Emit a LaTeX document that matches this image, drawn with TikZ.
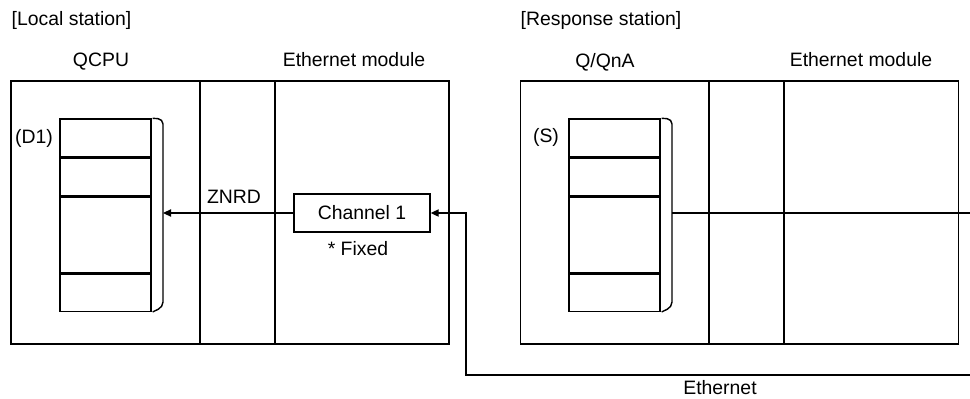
\documentclass[tikz,border=0pt]{standalone}
\usepackage{fontspec}
\setmainfont{Liberation Sans}
\usetikzlibrary{arrows.meta, positioning, calc}

\begin{document}
\begin{tikzpicture}[
    x=0.5pt, y=-0.5pt,
    line width=0.7pt,
    lbl/.style={inner sep=0pt, font=\fontsize{9.7}{11.6}\selectfont},
    frame/.style={
      rectangle, draw, minimum width=219pt, minimum height=131.5pt,
      inner sep=0pt
    },
    cell/.style={
      rectangle, draw, minimum width=45.5pt, inner sep=0pt
    },
    chbox/.style={
      rectangle, draw, minimum width=68pt, minimum height=19pt,
      inner sep=0pt, font=\fontsize{9.7}{11.6}\selectfont
    },
    arr/.style={-{Triangle[length=4pt, width=3.6pt]}}
  ]
    \useasboundingbox (0,0) rectangle (970,398);

    % local station
    \node[lbl, anchor=west] (loctitle) at (11,20) {[Local station]};
    \node[frame] (local) at (230,212.5) {};
    \node[lbl] (qcpu) at (101,62) {QCPU};
    \node[lbl] (emodl) at (354,60) {Ethernet module};
    \draw (200,81) -- (200,344);
    \draw (275,81) -- (275,344);

    \node[cell, minimum height=19pt] (d1a) at (105.5,138) {};
    \node[cell, minimum height=18.5pt, below=0pt of d1a] (d1b) {};
    \node[cell, minimum height=38pt, below=0pt of d1b] (d1c) {};
    \node[cell, minimum height=18.5pt, below=0pt of d1c] (d1d) {};
    \node[lbl] (d1lbl) at (34,138) {(D1)};
    \draw[rounded corners=2.5pt] (d1a.north east) ++(1,0) -- (163,119)
      -- (163,307) -- ($(d1d.south east)+(1,0)$);
    \coordinate (d1in) at (163,213);

    \node[chbox] (chan) at (362,213) {Channel 1};
    \node[lbl] (fixed) at (358,249) {* Fixed};
    \node[lbl] (znrd) at (234,197) {ZNRD};
    \draw[arr] (chan.west) -- (d1in);

    % response station
    \node[lbl, anchor=west] (resptitle) at (520,20) {[Response station]};
    \node[frame] (resp) at (739.5,212.5) {};
    \node[lbl] (qnqa) at (605,62) {Q/QnA};
    \node[lbl] (emodr) at (861,60) {Ethernet module};
    \draw (709,81) -- (709,344);
    \draw (784,81) -- (784,344);

    \node[cell, minimum height=19pt] (sa) at (614.5,138) {};
    \node[cell, minimum height=18.5pt, below=0pt of sa] (sb) {};
    \node[cell, minimum height=38pt, below=0pt of sb] (sc) {};
    \node[cell, minimum height=18.5pt, below=0pt of sc] (sd) {};
    \node[lbl] (slbl) at (546,137) {(S)};
    \draw[rounded corners=2.5pt] (sa.north east) ++(1,0) -- (672,119)
      -- (672,307) -- ($(sd.south east)+(1,0)$);
    \coordinate (sout) at (672,213);
    \coordinate (sedge) at (970,213);
    \draw (sout) -- (sedge);

    % ethernet line
    \coordinate (ethend) at (970,375);
    \node[lbl] (eth) at (720,388) {Ethernet};
    \draw[arr] (ethend) -| (466,213) -- (chan.east);
\end{tikzpicture}
\end{document}
